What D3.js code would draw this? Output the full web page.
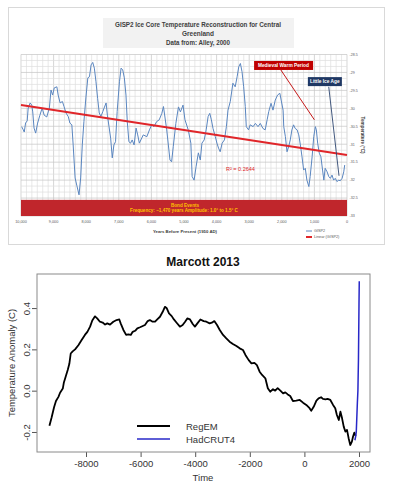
<!DOCTYPE html>
<html>
<head>
<meta charset="utf-8">
<script src="https://cdn.jsdelivr.net/npm/d3@7"></script>
<style>
body { margin: 0; background: #fff; }
svg { display: block; font-family: "Liberation Sans", Arial, sans-serif; }
</style>
</head>
<body>
<svg id="chart" width="397" height="489"></svg>
<script>
// GISP2 ice core (Alley 2000): years before present, temperature (C)
const gispYears = [9980, 9930, 9900, 9860, 9810, 9780, 9720, 9670, 9640, 9600, 9550, 9490, 9420, 9350, 9290, 9210, 9130, 9080, 9030, 8980,
  8900, 8860, 8800, 8730, 8680, 8620, 8550, 8500, 8440, 8400, 8340, 8290, 8220, 8170, 8120, 8070, 8010, 7950, 7900, 7850,
  7800, 7750, 7700, 7650, 7600, 7550, 7490, 7450, 7390, 7350, 7300, 7250, 7200, 7150, 7100, 7050, 6980, 6930, 6880, 6830,
  6780, 6740, 6690, 6640, 6590, 6530, 6470, 6420, 6370, 6250, 6140, 6060, 5990, 5920, 5840, 5760, 5680, 5630, 5530, 5430,
  5380, 5330, 5250, 5170, 5110, 5030, 4970, 4870, 4790, 4750, 4690, 4630, 4560, 4500, 4450, 4380, 4320, 4260, 4210, 4160,
  4110, 4040, 3990, 3940, 3890, 3830, 3760, 3700, 3650, 3580, 3500, 3430, 3370, 3320, 3270, 3220, 3170, 3120, 3090, 3020,
  2970, 2880, 2810, 2730, 2660, 2580, 2510, 2450, 2400, 2330, 2270, 2200, 2130, 2060, 2020, 1960, 1940, 1890, 1840, 1790,
  1740, 1690, 1640, 1590, 1530, 1480, 1430, 1380, 1330, 1280, 1230, 1170, 1130, 1070, 1020, 970, 940, 900, 850, 800,
  750, 710, 670, 610, 560, 510, 460, 410, 360, 310, 250, 210, 150, 100, 70];
const gispTemps = [-30.51, -30.60, -30.66, -30.41, -30.35, -29.99, -29.85, -29.91, -30.10, -30.55, -30.69, -30.41, -30.19, -29.99, -30.19, -30.24, -29.99, -29.49, -29.63, -29.43,
  -29.40, -29.63, -29.85, -29.81, -29.95, -30.13, -30.23, -30.41, -30.46, -31.02, -31.94, -32.14, -32.41, -31.94, -31.02, -30.37, -29.71, -29.15, -29.12, -28.79,
  -28.72, -28.88, -29.26, -29.72, -30.13, -30.23, -30.09, -29.99, -29.85, -30.19, -30.51, -30.83, -31.38, -31.02, -30.93, -30.09, -29.26, -28.88, -28.93, -29.15,
  -29.63, -30.37, -30.93, -30.97, -30.88, -31.02, -30.55, -30.74, -30.97, -30.74, -30.79, -30.60, -30.46, -30.51, -30.37, -30.32, -30.14, -29.95, -30.60, -31.44,
  -31.49, -31.07, -30.42, -29.96, -30.10, -29.91, -30.32, -30.60, -30.97, -31.90, -32.00, -31.63, -31.24, -31.44, -30.97, -30.88, -30.60, -30.23, -30.14, -30.32,
  -30.56, -30.79, -30.97, -31.11, -31.21, -30.97, -30.88, -30.51, -30.05, -29.81, -29.30, -29.40, -29.12, -28.84, -28.75, -28.98, -29.40, -29.95, -30.51, -30.60,
  -30.46, -30.51, -30.42, -30.51, -30.42, -30.56, -30.60, -30.32, -30.09, -29.86, -30.05, -29.77, -29.63, -29.58, -29.77, -30.05, -30.51, -30.79, -31.21, -31.07,
  -30.88, -30.60, -30.46, -30.56, -30.60, -30.74, -31.02, -31.35, -31.72, -31.67, -32.00, -32.18, -31.90, -31.35, -30.79, -30.51, -30.60, -30.97, -31.25, -31.35,
  -31.72, -32.00, -31.67, -31.77, -31.90, -31.95, -31.86, -32.00, -31.95, -32.04, -32.00, -32.02, -31.95, -31.77, -31.58];
const gispTrendYears = [10000, 0];
const gispTrendTemps = [-29.91, -31.30];
const gispXTicks = [10000, 9000, 8000, 7000, 6000, 5000, 4000, 3000, 2000, 1000, 0];
const gispYTicks = [-28.5, -29, -29.5, -30, -30.5, -31, -31.5, -32, -32.5, -33];
const bondBand = [-32.55, -33];

// Marcott 2013: RegEM stack and HadCRUT4, year AD and anomaly (C)
const regemYears = [-9340, -9260, -9170, -9100, -9010, -8950, -8850, -8810, -8740, -8670, -8610, -8560, -8490, -8400, -8280, -8160, -8040, -7950, -7850, -7770,
  -7670, -7590, -7490, -7390, -7300, -7220, -7120, -7000, -6880, -6780, -6730, -6630, -6530, -6450, -6360, -6290, -6200, -6120, -6020, -5920,
  -5840, -5740, -5660, -5560, -5470, -5390, -5290, -5190, -5110, -5040, -4960, -4860, -4780, -4680, -4560, -4460, -4370, -4290, -4190, -4090,
  -4010, -3920, -3810, -3690, -3590, -3470, -3390, -3300, -3200, -3100, -2980, -2860, -2740, -2620, -2490, -2370, -2250, -2160, -2040, -1940,
  -1830, -1740, -1640, -1550, -1430, -1340, -1250, -1150, -1070, -980, -880, -780, -700, -610, -520, -420, -300, -170, -50, 70,
  190, 250, 340, 440, 520, 610, 680, 770, 850, 950, 1050, 1130, 1190, 1260, 1320, 1380, 1440, 1500, 1560, 1620,
  1680, 1740, 1780, 1830, 1880];
const regemTemps = [-0.17, -0.13, -0.08, -0.05, -0.03, -0.01, 0.01, 0.04, 0.07, 0.10, 0.13, 0.18, 0.19, 0.20, 0.22, 0.245, 0.27, 0.285, 0.31, 0.34,
  0.36, 0.35, 0.334, 0.33, 0.32, 0.326, 0.32, 0.334, 0.342, 0.345, 0.326, 0.294, 0.27, 0.273, 0.27, 0.285, 0.29, 0.302, 0.307, 0.313,
  0.318, 0.337, 0.342, 0.334, 0.334, 0.345, 0.358, 0.382, 0.406, 0.399, 0.374, 0.361, 0.345, 0.329, 0.31, 0.318, 0.334, 0.35, 0.345, 0.323,
  0.31, 0.326, 0.345, 0.337, 0.334, 0.326, 0.329, 0.337, 0.318, 0.294, 0.27, 0.253, 0.237, 0.226, 0.216, 0.205, 0.197, 0.173, 0.148, 0.132,
  0.135, 0.124, 0.092, 0.076, 0.06, 0.012, -0.005, 0.007, 0.0, 0.012, 0.0, -0.013, -0.008, -0.018, -0.026, -0.05, -0.048, -0.045, -0.058, -0.069,
  -0.085, -0.097, -0.078, -0.048, -0.037, -0.032, -0.04, -0.042, -0.04, -0.045, -0.069, -0.085, -0.118, -0.142, -0.102, -0.134, -0.174, -0.198, -0.19, -0.23,
  -0.263, -0.247, -0.223, -0.203, -0.219];
const hadcrutYears = [1850, 1880, 1900, 1920, 1940, 1960, 1980, 2000, 2010];
const hadcrutTemps = [-0.24, -0.22, -0.2, -0.13, -0.06, 0.0, 0.15, 0.42, 0.53];
const marcottXTicks = [-8000, -6000, -4000, -2000, 0, 2000];
const marcottYTicks = [-0.2, 0.0, 0.2, 0.4];

const svg = d3.select('#chart');

// ---------- top panel: GISP2 ----------
const gisp = svg.append('g');

gisp.append('rect')
  .attr('x', 8.5).attr('y', 7.5)
  .attr('width', 376).attr('height', 237)
  .attr('fill', '#fff').attr('stroke', '#d9d9d9');

gisp.append('rect')
  .attr('x', 103).attr('y', 18)
  .attr('width', 191).attr('height', 30)
  .attr('fill', '#f2f2f2');

const titleLines = [
  ['GISP2 Ice Core Temperature Reconstruction for Central', 166, 27],
  ['Greenland', 32, 35.5],
  ['Data from: Alley, 2000', 64, 44.5]
];
titleLines.forEach(([t, w, y]) => {
  gisp.append('text')
    .attr('x', 198).attr('y', y)
    .attr('text-anchor', 'middle')
    .attr('textLength', w).attr('lengthAdjust', 'spacingAndGlyphs')
    .attr('font-size', 7).attr('font-weight', 'bold')
    .attr('fill', '#404040')
    .text(t);
});

const gx = d3.scaleLinear().domain([10000, 0]).range([21, 347]);
const gy = d3.scaleLinear().domain([-33, -28.5]).range([216, 54.5]);

// gridlines
const minorX = d3.range(0, 61).map(i => i * 10000 / 60);
const minorY = d3.range(0, 28).map(i => -33 + i * 4.5 / 27);
const grid = gisp.append('g');
grid.selectAll('line.vx').data(minorX).join('line')
  .attr('x1', d => gx(d)).attr('x2', d => gx(d))
  .attr('y1', gy(-28.5)).attr('y2', gy(-33))
  .attr('stroke', (d, i) => i % 6 === 0 ? '#c4c4c4' : '#dedede')
  .attr('stroke-width', 0.7);
grid.selectAll('line.hy').data(minorY).join('line')
  .attr('y1', d => gy(d)).attr('y2', d => gy(d))
  .attr('x1', gx(10000)).attr('x2', gx(0))
  .attr('stroke', (d, i) => i % 3 === 0 ? '#c4c4c4' : '#dedede')
  .attr('stroke-width', 0.7);

// bond events band
gisp.append('rect')
  .attr('x', gx(10000)).attr('y', gy(bondBand[0]))
  .attr('width', gx(0) - gx(10000)).attr('height', gy(bondBand[1]) - gy(bondBand[0]))
  .attr('fill', '#c0262c');
gisp.append('text')
  .attr('x', 185).attr('y', 206.5)
  .attr('text-anchor', 'middle')
  .attr('font-size', 4.6).attr('font-weight', 'bold').attr('fill', '#ffc000')
  .text('Bond Events');
gisp.append('text')
  .attr('x', 184).attr('y', 212)
  .attr('text-anchor', 'middle')
  .attr('font-size', 4.6).attr('font-weight', 'bold').attr('fill', '#ffc000')
  .text('Frequency: ~1,470 years  Amplitude: 1.0° to 1.5° C');

// series
const gispLine = d3.line().x(d => gx(d[0])).y(d => gy(d[1]));
gisp.append('path')
  .datum(d3.zip(gispYears, gispTemps))
  .attr('d', gispLine)
  .attr('fill', 'none').attr('stroke', '#5a86c0').attr('stroke-width', 1);

gisp.append('path')
  .datum(d3.zip(gispTrendYears, gispTrendTemps))
  .attr('d', gispLine)
  .attr('fill', 'none').attr('stroke', '#e0262a').attr('stroke-width', 2);

// axes labels
gisp.selectAll('text.gxt').data(gispXTicks).join('text')
  .attr('x', d => gx(d)).attr('y', 223)
  .attr('text-anchor', 'middle')
  .attr('font-size', 3.8).attr('fill', '#595959')
  .text(d3.format(','));
gisp.selectAll('text.gyt').data(gispYTicks).join('text')
  .attr('x', 349.5).attr('y', d => gy(d) + 1.3)
  .attr('font-size', 3.6).attr('fill', '#595959')
  .text(d => String(d));

gisp.append('text')
  .attr('x', 185).attr('y', 233)
  .attr('text-anchor', 'middle')
  .attr('font-size', 4.3).attr('font-weight', 'bold').attr('fill', '#404040')
  .text('Years Before Present (1950 AD)');
gisp.append('text')
  .attr('transform', 'translate(360.5,135) rotate(90)')
  .attr('text-anchor', 'middle')
  .attr('font-size', 4.6).attr('font-weight', 'bold').attr('fill', '#404040')
  .text('Temperature (°C)');

// legend
const gLegend = [['GISP2', '#5a86c0', 1, 231], ['Linear (GISP2)', '#e0262a', 2, 237]];
gLegend.forEach(([t, c, w, y]) => {
  gisp.append('line')
    .attr('x1', 306).attr('x2', 312).attr('y1', y).attr('y2', y)
    .attr('stroke', c).attr('stroke-width', w);
  gisp.append('text')
    .attr('x', 314).attr('y', y + 1.4)
    .attr('font-size', 3.8).attr('fill', '#595959')
    .text(t);
});

// annotations
gisp.append('line')
  .attr('x1', gx(2030)).attr('y1', gy(-28.93))
  .attr('x2', gx(1000)).attr('y2', gy(-30.32))
  .attr('stroke', '#c00000').attr('stroke-width', 0.9);
gisp.append('rect')
  .attr('x', gx(2850)).attr('y', gy(-28.68))
  .attr('width', 59).attr('height', 9)
  .attr('fill', '#c00000');
gisp.append('text')
  .attr('x', gx(1950)).attr('y', gy(-28.68) + 6.3)
  .attr('text-anchor', 'middle')
  .attr('font-size', 4.8).attr('font-weight', 'bold').attr('fill', '#fff')
  .text('Medieval Warm Period');

gisp.append('line')
  .attr('x1', gx(560)).attr('y1', gy(-29.4))
  .attr('x2', gx(245)).attr('y2', gy(-31.88))
  .attr('stroke', '#2e4670').attr('stroke-width', 0.9);
gisp.append('rect')
  .attr('x', gx(1200)).attr('y', gy(-29.13))
  .attr('width', 34).attr('height', 9)
  .attr('fill', '#1f3864');
gisp.append('text')
  .attr('x', gx(680)).attr('y', gy(-29.13) + 6.3)
  .attr('text-anchor', 'middle')
  .attr('font-size', 4.8).attr('font-weight', 'bold').attr('fill', '#fff')
  .text('Little Ice Age');

gisp.append('text')
  .attr('x', gx(3712)).attr('y', gy(-31.69) + 2)
  .attr('font-size', 5.5).attr('fill', '#e0262a')
  .text('R² = 0.2644');

// ---------- bottom panel: Marcott 2013 ----------
const bot = svg.append('g');
const mx = d3.scaleLinear().domain([-9795, 2403]).range([37, 370]);
const my = d3.scaleLinear().domain([-0.297, 0.565]).range([452, 274]);

bot.append('text')
  .attr('x', 203).attr('y', 266)
  .attr('text-anchor', 'middle')
  .attr('font-size', 12).attr('font-weight', 'bold').attr('fill', '#111')
  .text('Marcott 2013');

const xAxis = bot.append('g')
  .attr('transform', 'translate(0,452)')
  .call(d3.axisBottom(mx).tickValues(marcottXTicks).tickSize(5).tickPadding(3).tickFormat(String));
const yAxis = bot.append('g')
  .attr('transform', 'translate(37,0)')
  .call(d3.axisLeft(my).tickValues(marcottYTicks).tickSize(5).tickFormat(d => d.toFixed(1)));
[xAxis, yAxis].forEach(a => {
  a.select('.domain').remove();
  a.selectAll('line').attr('stroke', '#555');
  a.selectAll('text').attr('font-size', 9.5).attr('fill', '#333')
    .attr('font-family', '"Liberation Sans", Arial, sans-serif');
});
yAxis.selectAll('text')
  .attr('x', 0).attr('y', 0).attr('dy', 0)
  .attr('text-anchor', 'middle')
  .attr('transform', 'translate(-7,0) rotate(-90)');

bot.append('rect')
  .attr('x', 37).attr('y', 274)
  .attr('width', 333).attr('height', 178)
  .attr('fill', 'none').attr('stroke', '#8a8a8a').attr('stroke-width', 1);

const mLine = d3.line().x(d => mx(d[0])).y(d => my(d[1]));
bot.append('path')
  .datum(d3.zip(regemYears, regemTemps))
  .attr('d', mLine)
  .attr('fill', 'none').attr('stroke', '#000').attr('stroke-width', 1.8)
  .attr('stroke-linejoin', 'round');
bot.append('path')
  .datum(d3.zip(hadcrutYears, hadcrutTemps))
  .attr('d', mLine)
  .attr('fill', 'none').attr('stroke', '#2828c8').attr('stroke-width', 1.5);

bot.append('text')
  .attr('x', 203).attr('y', 481)
  .attr('text-anchor', 'middle')
  .attr('font-size', 9.5).attr('fill', '#333')
  .text('Time');
bot.append('text')
  .attr('transform', 'translate(15,363) rotate(-90)')
  .attr('text-anchor', 'middle')
  .attr('font-size', 9.5).attr('fill', '#333')
  .text('Temperature Anomaly (C)');

const mLegend = [['RegEM', '#000', 1.8, 426], ['HadCRUT4', '#2828c8', 1.5, 439]];
mLegend.forEach(([t, c, w, y]) => {
  bot.append('line')
    .attr('x1', 137).attr('x2', 170).attr('y1', y).attr('y2', y)
    .attr('stroke', c).attr('stroke-width', w);
  bot.append('text')
    .attr('x', 186).attr('y', y + 3.5)
    .attr('font-size', 9.5).attr('fill', '#333')
    .text(t);
});
</script>
</body>
</html>
